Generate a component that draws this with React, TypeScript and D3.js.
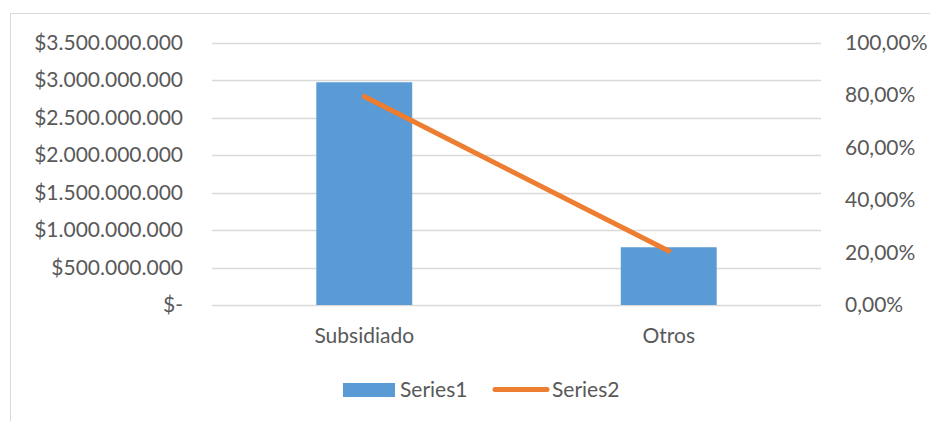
import React, { useEffect, useRef } from 'react';
import * as d3 from 'd3';

const categories = ['Subsidiado', 'Otros'];
const series1 = [2970000000, 770000000];
const series2 = [0.794, 0.206];
const leftTicks = [0, 500000000, 1000000000, 1500000000, 2000000000, 2500000000, 3000000000, 3500000000];
const rightTicks = [0, 0.2, 0.4, 0.6, 0.8, 1];
const legendLabels = ['Series1', 'Series2'];

const W = 930;
const H = 421;
const FONT = 'Lato, Carlito, Calibri, sans-serif';
const TEXT = '#595959';

const locale = d3.formatLocale({ decimal: ',', thousands: '.', grouping: [3], currency: ['$', ''] });
const fmtMoney = (v: number) => (v === 0 ? '$-' : '$' + locale.format(',.0f')(v));
const fmtPct = locale.format('.2%');

const App: React.FC = () => {
  const svgRef = useRef<SVGSVGElement>(null);

  useEffect(() => {
    if (!svgRef.current) return;
    const svg = d3.select(svgRef.current);
    svg.selectAll('*').remove();

    const left = 212;
    const right = 821;
    const top = 42.5;
    const bottom = 305;

    // chart area border
    svg.append('rect')
      .attr('x', 10.5).attr('y', 13.5)
      .attr('width', W + 20).attr('height', H + 20)
      .attr('fill', '#fff').attr('stroke', '#d9d9d9').attr('stroke-width', 1);

    const x = d3.scaleBand<string>().domain(categories).range([left, right])
      .paddingInner(0.685).paddingOuter(0.3425);
    const yL = d3.scaleLinear().domain([0, 3500000000]).range([bottom, top]);
    const yR = d3.scaleLinear().domain([0, 1]).range([bottom, top]);

    // gridlines
    svg.append('g').selectAll('line').data(leftTicks).enter().append('line')
      .attr('x1', left).attr('x2', right)
      .attr('y1', d => Math.round(yL(d)) + 0.5).attr('y2', d => Math.round(yL(d)) + 0.5)
      .attr('stroke', '#d9d9d9').attr('stroke-width', 1.5);

    // left axis labels
    svg.append('g').selectAll('text').data(leftTicks).enter().append('text')
      .attr('x', 183).attr('y', d => yL(d)).attr('dy', '0.35em')
      .attr('text-anchor', 'end')
      .attr('font-family', FONT).attr('font-size', 21).attr('fill', TEXT)
      .text(d => fmtMoney(d));

    // right axis labels
    svg.append('g').selectAll('text').data(rightTicks).enter().append('text')
      .attr('x', 845).attr('y', d => yR(d)).attr('dy', '0.35em')
      .attr('text-anchor', 'start')
      .attr('font-family', FONT).attr('font-size', 21).attr('fill', TEXT)
      .text(d => fmtPct(d));

    // bars
    svg.append('g').selectAll('rect').data(series1).enter().append('rect')
      .attr('x', (d, i) => x(categories[i])!)
      .attr('y', d => yL(d))
      .attr('width', x.bandwidth())
      .attr('height', d => bottom - yL(d))
      .attr('fill', '#5b9bd5');

    // line
    const line = d3.line<number>()
      .x((d, i) => x(categories[i])! + x.bandwidth() / 2)
      .y(d => yR(d));
    svg.append('path').datum(series2)
      .attr('d', line)
      .attr('fill', 'none').attr('stroke', '#ed7d31')
      .attr('stroke-width', 5).attr('stroke-linecap', 'round');

    // category labels
    svg.append('g').selectAll('text').data(categories).enter().append('text')
      .attr('x', d => x(d)! + x.bandwidth() / 2).attr('y', 343)
      .attr('text-anchor', 'middle')
      .attr('font-family', FONT).attr('font-size', 21).attr('fill', TEXT)
      .text(d => d);

    // legend
    const lg = svg.append('g');
    lg.append('rect').attr('x', 343).attr('y', 383).attr('width', 52).attr('height', 14).attr('fill', '#5b9bd5');
    lg.append('text').attr('x', 400).attr('y', 390).attr('dy', '0.35em')
      .attr('font-family', FONT).attr('font-size', 21).attr('fill', TEXT).text(legendLabels[0]);
    lg.append('line').attr('x1', 495).attr('x2', 547).attr('y1', 389.5).attr('y2', 389.5)
      .attr('stroke', '#ed7d31').attr('stroke-width', 5).attr('stroke-linecap', 'round');
    lg.append('text').attr('x', 552).attr('y', 390).attr('dy', '0.35em')
      .attr('font-family', FONT).attr('font-size', 21).attr('fill', TEXT).text(legendLabels[1]);
  }, []);

  return (
    <svg ref={svgRef} width={W} height={H}
      style={{ position: 'absolute', left: 0, top: 0, background: '#fff', display: 'block' }} />
  );
};

export default App;
